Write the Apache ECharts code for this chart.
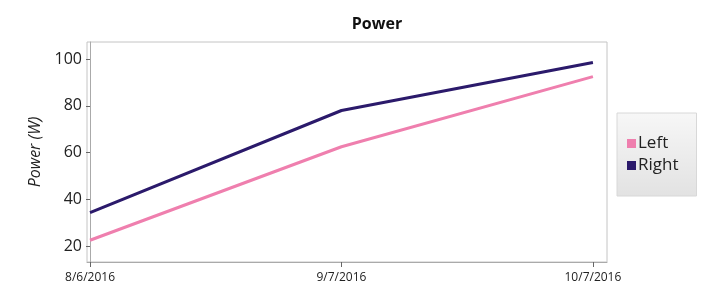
<!DOCTYPE html>
<html>
<head>
    <meta charset="utf-8">
    <title>Power</title>
    <script src="https://cdn.jsdelivr.net/npm/echarts/dist/echarts.min.js"></script>
</head>
<body style="margin:0">
    <div id="main" style="width: 713px;height:289px;"></div>
    <script>
        var dates = ['8/6/2016', '9/7/2016', '10/7/2016'];
        var leftPower = [22.5, 62.5, 92.5];
        var rightPower = [34.3, 78, 98.5];
        var yTicks = [20, 40, 60, 80, 100];

        var myChart = echarts.init(document.getElementById('main'));

        function pairs(vals) {
            return vals.map(function (v, i) { return [i, v]; });
        }

        var option = {
            backgroundColor: '#fff',
            animation: false,
            title: {
                text: 'Power',
                left: 372,
                top: 11,
                textAlign: 'center',
                textStyle: { fontFamily: 'Open Sans', fontSize: 16, fontWeight: 'bold', color: '#111' }
            },
            legend: {
                orient: 'vertical',
                left: 617,
                top: 113,
                padding: [22, 18, 22, 10],
                itemWidth: 9,
                itemHeight: 9,
                itemGap: 5,
                icon: 'rect',
                backgroundColor: new echarts.graphic.LinearGradient(0, 0, 0, 1, [
                    { offset: 0, color: '#f7f7f7' },
                    { offset: 1, color: '#e2e2e2' }
                ]),
                borderColor: '#d8d8d8',
                borderWidth: 1,
                textStyle: { fontFamily: 'Open Sans', fontSize: 17, color: '#222', padding: [0, 0, 0, -3] },
                data: ['Left', 'Right']
            },
            grid: {
                left: 87,
                right: 106,
                top: 42,
                bottom: 27,
                show: true,
                borderColor: '#c4c4c4',
                borderWidth: 1
            },
            xAxis: {
                type: 'value',
                min: -0.012,
                max: 2.056,
                splitLine: { show: false },
                axisLine: { show: true, lineStyle: { color: '#aaa' } },
                axisTick: { show: true, customValues: [0, 1, 2], length: 5, lineStyle: { color: '#666' } },
                axisLabel: {
                    customValues: [0, 1, 2],
                    formatter: function (v) { return dates[Math.round(v)]; },
                    fontFamily: 'Open Sans',
                    fontSize: 12,
                    color: '#222',
                    margin: 10
                }
            },
            yAxis: {
                type: 'value',
                min: 13.2,
                max: 107.3,
                name: 'Power (W)',
                nameLocation: 'middle',
                nameGap: 44,
                nameTextStyle: { fontFamily: 'Open Sans', fontSize: 16, fontStyle: 'italic', color: '#222' },
                splitLine: { show: false },
                axisLine: { show: true, lineStyle: { color: '#aaa' } },
                axisTick: { show: true, customValues: yTicks, length: 4, lineStyle: { color: '#666' } },
                axisLabel: {
                    customValues: yTicks,
                    fontFamily: 'Open Sans',
                    fontSize: 16,
                    color: '#222',
                    margin: 5
                }
            },
            series: [
                {
                    name: 'Left',
                    type: 'line',
                    data: pairs(leftPower),
                    symbol: 'none',
                    color: '#ef7fae',
                    lineStyle: { width: 3 }
                },
                {
                    name: 'Right',
                    type: 'line',
                    data: pairs(rightPower),
                    symbol: 'none',
                    color: '#2b1a6b',
                    lineStyle: { width: 3 }
                }
            ]
        };

        myChart.setOption(option);
    </script>
</body>
</html>
